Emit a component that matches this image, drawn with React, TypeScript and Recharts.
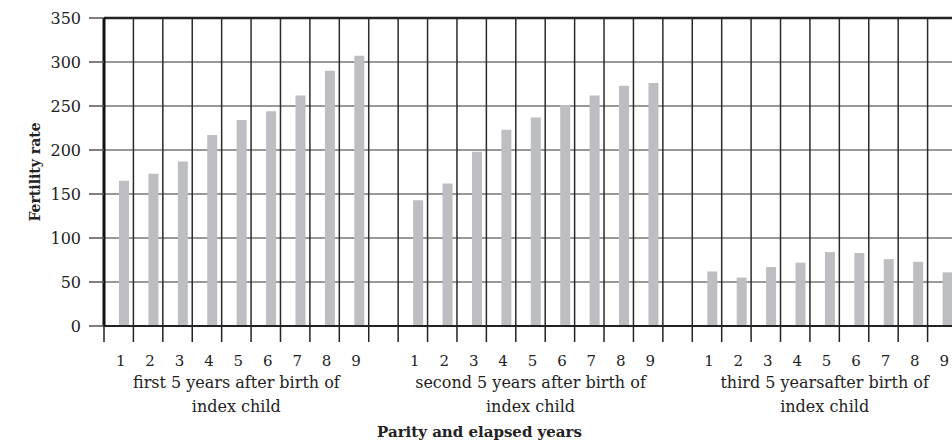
import React from "react";
import { BarChart, Bar, XAxis, YAxis, CartesianGrid, ReferenceLine, Label } from "recharts";

// parity labels and fertility rates per 5-year period after the index child
const parity = ["1", "2", "3", "4", "5", "6", "7", "8", "9"];
const firstPeriod = [165, 173, 187, 217, 234, 244, 262, 290, 307];
const secondPeriod = [143, 162, 198, 223, 237, 251, 262, 273, 276];
const thirdPeriod = [62, 55, 67, 72, 84, 83, 76, 73, 61];
const periodCaptions = [
  ["first 5 years after birth of", "index child"],
  ["second 5 years after birth of", "index child"],
  ["third 5 yearsafter birth of", "index child"],
];
const yTicks = [0, 50, 100, 150, 200, 250, 300, 350];

const FONT = "'DejaVu Serif', 'Liberation Serif', serif";

type Row = { key: string; parity: string; rate: number | null; pad: null; caption: string[] | null };

const rows: Row[] = [];
[firstPeriod, secondPeriod, thirdPeriod].forEach((values, g) => {
  values.forEach((v, i) => {
    rows.push({ key: `p${g}-${i}`, parity: parity[i], rate: v, pad: null, caption: i === 4 ? periodCaptions[g] : null });
  });
  if (g < 2) rows.push({ key: `gap${g}`, parity: "", rate: null, pad: null, caption: null });
});

const ParityTick = (props: any) => {
  const { x, y, payload, width } = props;
  const row = rows[payload.index];
  const half = payload.offset > 0 ? payload.offset : (width || 853) / rows.length / 2;
  return (
    <g>
      <line x1={x - half} x2={x - half} y1={y} y2={y + 16} stroke="#222" strokeWidth={1.5} />
      {row && row.parity && (
        <text x={x + 2} y={y + 40} textAnchor="middle" fontFamily={FONT} fontSize={15} fill="#222">
          {row.parity}
        </text>
      )}
      {row && row.caption && (
        <text textAnchor="middle" fontFamily={FONT} fontSize={16} fill="#222">
          <tspan x={x} y={y + 62}>{row.caption[0]}</tspan>
          <tspan x={x} y={y + 86}>{row.caption[1]}</tspan>
        </text>
      )}
    </g>
  );
};

export default function App() {
  return (
    <div style={{ position: "absolute", left: 8, top: 8, width: 960, height: 435 }}>
      <style>{"html{overflow:hidden}"}</style>
      <BarChart
        width={960}
        height={435}
        style={{ maxWidth: "none" }}
        data={rows}
        margin={{ top: 10, right: 11, left: 0, bottom: 0 }}
        barGap={0}
        barSize={10}
      >
        <CartesianGrid vertical={false} stroke="#777" strokeWidth={1.5} />
        <CartesianGrid
          horizontal={false}
          stroke="#2b2b2b"
          strokeWidth={1.5}
          verticalCoordinatesGenerator={({ offset }: any) =>
            rows.map((_, i) => offset.left + ((i + 1) * offset.width) / rows.length)
          }
        />
        <XAxis
          dataKey="key"
          interval={0}
          height={117}
          tickLine={false}
          tickSize={0}
          tickMargin={0}
          axisLine={{ stroke: "#222", strokeWidth: 2 }}
          tick={<ParityTick />}
        >
          <Label
            content={({ viewBox }: any) => (
              <text
                x={viewBox.x + viewBox.width / 2 - 51}
                y={viewBox.y + 111}
                textAnchor="middle"
                fontFamily={FONT}
                fontWeight="bold"
                fontSize={15}
                fill="#222"
              >
                Parity and elapsed years
              </text>
            )}
          />
        </XAxis>
        <YAxis
          domain={[0, 350]}
          ticks={yTicks}
          width={96}
          tickSize={15}
          tickMargin={8}
          axisLine={{ stroke: "#111", strokeWidth: 3 }}
          tickLine={{ stroke: "#555", strokeWidth: 1.5 }}
          tick={{ fontFamily: FONT, fontSize: 16, fill: "#222" }}
        >
          <Label
            content={({ viewBox }: any) => {
              const cx = 27;
              const cy = viewBox.y + viewBox.height / 2;
              return (
                <text
                  x={cx}
                  y={cy}
                  transform={`rotate(-90, ${cx}, ${cy})`}
                  textAnchor="middle"
                  dominantBaseline="central"
                  fontFamily={FONT}
                  fontWeight="bold"
                  fontSize={14}
                  fill="#222"
                >
                  Fertility rate
                </text>
              );
            }}
          />
        </YAxis>
        <Bar dataKey="pad" fill="none" isAnimationActive={false} />
        <Bar dataKey="rate" fill="#bdbec1" isAnimationActive={false} />
        <ReferenceLine y={350} stroke="#222" strokeWidth={2.5} />
      </BarChart>
    </div>
  );
}
